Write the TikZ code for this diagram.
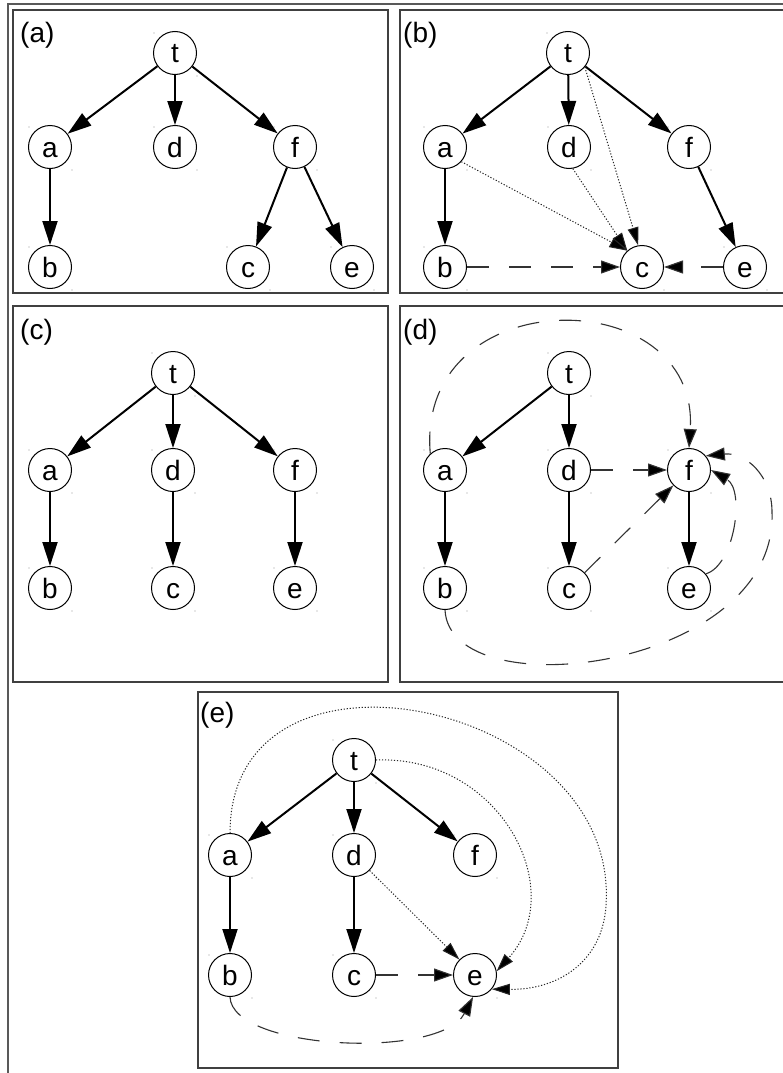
\documentclass[tikz,border=0pt]{standalone}
\usepackage{fontspec}
\setmainfont{Liberation Sans}
\usetikzlibrary{arrows.meta}
\newcommand\gnode[4]{%
  \node[vtx] (#1) at (#2,#3) {#4};
  \fill[black!40] (#2-21,#3-20) circle (0.6pt);
  \fill[black!40] (#2+22,#3+23) circle (0.6pt);
}
\newcommand\plabel[3]{\node[plab] at (#1,#2) {(#3)};}
\begin{document}
\begin{tikzpicture}[x=1pt,y=-1pt,
  vtx/.style={circle, draw, line width=1pt, minimum size=43pt, inner sep=0pt,
    text height=20pt, text depth=0pt, font=\fontsize{28}{28}\selectfont},
  plab/.style={anchor=base west, inner sep=0pt, font=\fontsize{28}{28}\selectfont},
  panel/.style={draw=black!75, line width=1.4pt},
  frame/.style={draw=black!65, line width=2pt},
  tree/.style={-{Triangle[length=24pt,width=15pt]}, line width=2pt},
  dsh/.style={-{Triangle[length=19pt,width=13pt,fill=black]}, line width=1.1pt, draw=black!80,
    dash pattern=on 22pt off 20pt},
  dot/.style={-{Triangle[length=18pt,width=11pt,fill=black]}, line width=1pt, draw=black!85,
    dash pattern=on 1.2pt off 1.8pt}
]
\useasboundingbox (0,0) rectangle (783,1073);
\fill[white] (0,0) rectangle (783,1073);
% outer frame
\draw[frame] (8,1075) -- (8,4) -- (790,4);
% panels
\draw[panel] (13,10) rectangle (388,293);
\draw[panel] (400,10) rectangle (800,293);
\draw[panel] (13,306) rectangle (388,682);
\draw[panel] (400,306) rectangle (800,682);
\draw[panel] (198,692) rectangle (618,1068);

% ---------- (a) ----------
\plabel{20}{43}{a}
\gnode{A-t}{175}{53}{t}
\gnode{A-a}{50}{147}{a}
\gnode{A-d}{175}{147}{d}
\gnode{A-f}{295}{147}{f}
\gnode{A-b}{50}{267}{b}
\gnode{A-c}{248}{267}{c}
\gnode{A-e}{352}{267}{e}
\draw[tree] (A-t) -- (A-a);
\draw[tree] (A-t) -- (A-d);
\draw[tree] (A-t) -- (A-f);
\draw[tree] (A-a) -- (A-b);
\draw[tree] (A-f) -- (A-c);
\draw[tree] (A-f) -- (A-e);

% ---------- (b) ----------
\plabel{403}{43}{b}
\gnode{B-t}{568}{53}{t}
\gnode{B-a}{445}{147}{a}
\gnode{B-d}{569}{147}{d}
\gnode{B-f}{689}{147}{f}
\gnode{B-b}{445}{267}{b}
\gnode{B-c}{642}{267}{c}
\gnode{B-e}{745}{267}{e}
\draw[tree] (B-t) -- (B-a);
\draw[tree] (B-t) -- (B-d);
\draw[tree] (B-t) -- (B-f);
\draw[tree] (B-a) -- (B-b);
\draw[tree] (B-f) -- (B-e);
\draw[dot] (B-a.-42) -- (B-c.132);
\draw[dot] (B-d.-80) -- (B-c.132);
\draw[dot] (B-t.-40) -- (B-c.100);
\draw[dsh] (B-b) -- (B-c);
\draw[dsh] (B-e) -- (B-c);

% ---------- (c) ----------
\plabel{20}{339}{c}
\gnode{C-t}{173}{373}{t}
\gnode{C-a}{50}{470}{a}
\gnode{C-d}{173}{470}{d}
\gnode{C-f}{295}{470}{f}
\gnode{C-b}{50}{588}{b}
\gnode{C-c}{173}{588}{c}
\gnode{C-e}{295}{588}{e}
\draw[tree] (C-t) -- (C-a);
\draw[tree] (C-t) -- (C-d);
\draw[tree] (C-t) -- (C-f);
\draw[tree] (C-a) -- (C-b);
\draw[tree] (C-d) -- (C-c);
\draw[tree] (C-f) -- (C-e);

% ---------- (d) ----------
\plabel{403}{339}{d}
\gnode{D-t}{569}{373}{t}
\gnode{D-a}{445}{470}{a}
\gnode{D-d}{569}{470}{d}
\gnode{D-f}{689}{470}{f}
\gnode{D-b}{445}{588}{b}
\gnode{D-c}{569}{588}{c}
\gnode{D-e}{689}{588}{e}
\draw[tree] (D-t) -- (D-a);
\draw[tree] (D-t) -- (D-d);
\draw[tree] (D-a) -- (D-b);
\draw[tree] (D-d) -- (D-c);
\draw[tree] (D-f) -- (D-e);
\draw[dsh] (D-d) -- (D-f);
\draw[dsh] (D-c) -- (D-f);
\draw[dsh] (D-a.132) .. controls (415,280) and (700,280) .. (D-f.90);
\draw[dsh] (D-b.270) .. controls (450,710) and (778,670) .. (772,512)
   .. controls (772,475) and (745,452) .. (D-f.40);
\draw[dsh] (D-e.40) .. controls (735,565) and (745,490) .. (D-f.0);

% ---------- (e) ----------
\plabel{200}{722}{e}
\gnode{E-t}{354}{760}{t}
\gnode{E-a}{230}{855}{a}
\gnode{E-d}{354}{855}{d}
\gnode{E-f}{475}{855}{f}
\gnode{E-b}{230}{975}{b}
\gnode{E-c}{354}{975}{c}
\gnode{E-e}{475}{975}{e}
\draw[tree] (E-t) -- (E-a);
\draw[tree] (E-t) -- (E-d);
\draw[tree] (E-t) -- (E-f);
\draw[tree] (E-a) -- (E-b);
\draw[tree] (E-d) -- (E-c);
\draw[dot] (E-d) -- (E-e);
\draw[dot] (E-t.0) .. controls (500,755) and (570,890) .. (E-e.10);
\draw[dot] (E-a.90) .. controls (230,620) and (620,700) .. (606,905)
   .. controls (603,960) and (560,990) .. (E-e.-40);
\draw[dsh] (E-c) -- (E-e);
\draw[dsh] (E-b.270) .. controls (232,1050) and (440,1060) .. (E-e.265);
\end{tikzpicture}
\end{document}
